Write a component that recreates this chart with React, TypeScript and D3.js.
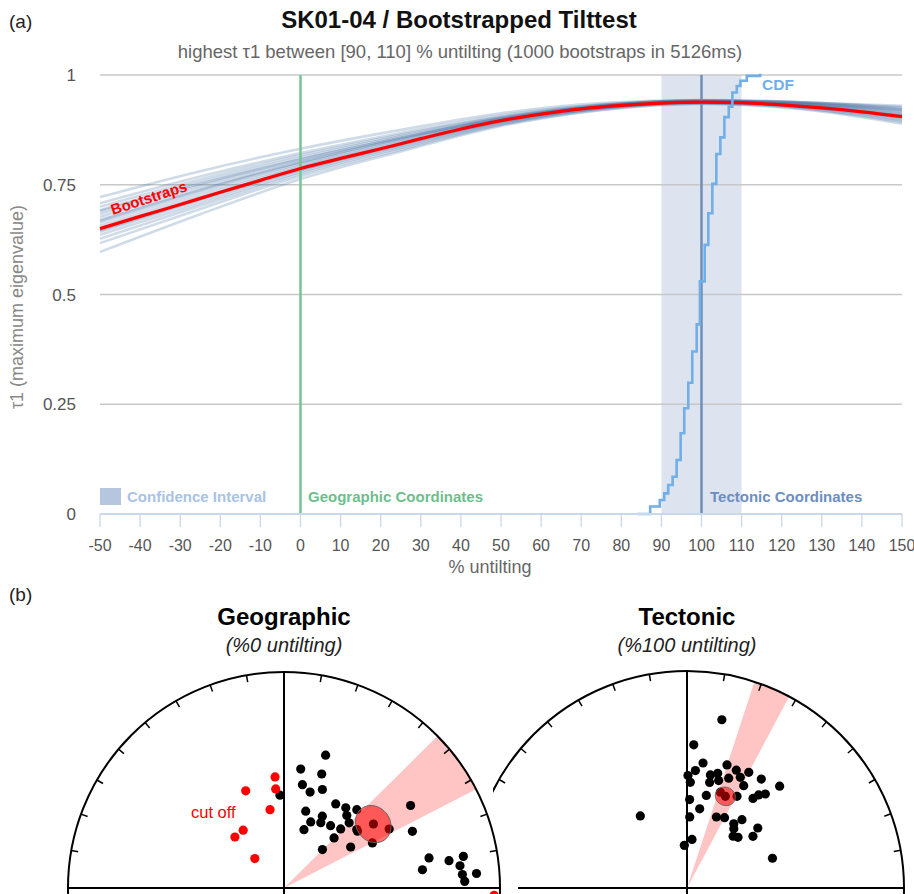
import React from "react";
import * as d3 from "d3";

// ---- panel (a): tilt test ----
const X_TICKS = [-50, -40, -30, -20, -10, 0, 10, 20, 30, 40, 50, 60, 70, 80, 90, 100, 110, 120, 130, 140, 150];
const Y_TICKS = [0, 0.25, 0.5, 0.75, 1];

const MEAN_X = [-50, -40, -30, -20, -10, 0, 10, 20, 30, 40, 50, 60, 70, 80, 90, 100, 110, 120, 130, 140, 150];
const MEAN_TAU1 = [0.65, 0.678, 0.705, 0.733, 0.76, 0.787, 0.81, 0.832, 0.855, 0.877, 0.896, 0.911, 0.923, 0.931, 0.936, 0.938, 0.937, 0.932, 0.925, 0.916, 0.905];

const BOOT_X = [-50, -25, 0, 25, 50, 75, 100, 125, 150];
const BOOTSTRAPS = [
  [0.722, 0.781, 0.832, 0.875, 0.913, 0.936, 0.943, 0.938, 0.925],
  [0.708, 0.769, 0.822, 0.868, 0.908, 0.933, 0.942, 0.938, 0.927],
  [0.7, 0.762, 0.817, 0.864, 0.905, 0.932, 0.942, 0.937, 0.922],
  [0.692, 0.756, 0.812, 0.861, 0.903, 0.931, 0.941, 0.936, 0.92],
  [0.684, 0.749, 0.807, 0.857, 0.901, 0.93, 0.941, 0.935, 0.917],
  [0.677, 0.743, 0.802, 0.854, 0.899, 0.929, 0.94, 0.934, 0.915],
  [0.67, 0.737, 0.798, 0.851, 0.898, 0.929, 0.94, 0.933, 0.912],
  [0.664, 0.731, 0.794, 0.848, 0.897, 0.928, 0.939, 0.932, 0.91],
  [0.657, 0.725, 0.79, 0.845, 0.896, 0.927, 0.939, 0.93, 0.907],
  [0.65, 0.72, 0.787, 0.843, 0.894, 0.926, 0.938, 0.929, 0.904],
  [0.643, 0.714, 0.783, 0.84, 0.892, 0.925, 0.937, 0.928, 0.902],
  [0.636, 0.708, 0.779, 0.837, 0.89, 0.924, 0.937, 0.927, 0.899],
  [0.627, 0.702, 0.775, 0.834, 0.888, 0.923, 0.936, 0.925, 0.896],
  [0.617, 0.695, 0.77, 0.83, 0.886, 0.921, 0.935, 0.924, 0.893],
  [0.597, 0.683, 0.763, 0.826, 0.884, 0.92, 0.934, 0.922, 0.889],
  [0.668, 0.738, 0.801, 0.855, 0.902, 0.931, 0.942, 0.938, 0.93],
  [0.646, 0.717, 0.785, 0.842, 0.893, 0.925, 0.938, 0.934, 0.921],
  [0.69, 0.752, 0.808, 0.857, 0.9, 0.928, 0.939, 0.931, 0.908],
];

// CDF steps: [untilting where it jumps, new cumulative value]
const CDF_STEPS = [
  [84, 0], [87.2, 0.017], [89.6, 0.032], [90.7, 0.047], [91.7, 0.066], [92.8, 0.085],
  [93.8, 0.123], [94.8, 0.184], [95.7, 0.241], [96.7, 0.299], [97.7, 0.37], [98.8, 0.432],
  [99.6, 0.53], [100.8, 0.613], [101.7, 0.685], [102.7, 0.752], [103.7, 0.82], [104.7, 0.858],
  [105.7, 0.904], [106.8, 0.928], [107.7, 0.96], [108.8, 0.975], [109.7, 0.987], [111.3, 0.998],
  [114.6, 1], [115, 1],
];
const CONFIDENCE = [90, 110];
const GEOGRAPHIC_AT = 0;
const TECTONIC_AT = 100;

// ---- panel (b): equal-area nets, [declination, inclination] ----
const GEO_POINTS = [
  [17.4, 35.8], [8.0, 43.7], [18.3, 43.7], [10.1, 49.8], [15.2, 52.0], [21.3, 49.5], [357.5, 54.6],
  [31.6, 52.3], [37.6, 51.3], [42.9, 49.0], [15.8, 59.7], [28.1, 59.1], [40.9, 53.4], [22.0, 63.0],
  [29.4, 61.6], [36.8, 60.5], [43.8, 58.9], [45.0, 54.9], [18.9, 66.7], [45.0, 63.2], [52.3, 54.6],
  [56.9, 30.7], [66.2, 35.3], [60.7, 43.5], [63.0, 52.1], [45.0, 69.5], [58.4, 60.3], [78.3, 32.0],
  [82.5, 35.6], [80.6, 23.6], [80.0, 16.8], [82.8, 19.0], [85.7, 18.3], [87.9, 17.4], [85.7, 11.6],
  [51.2, 54.4],
];
const GEO_CUTOFF = [
  [355.4, 47.2], [355.2, 52.0], [338.5, 50.0], [349.9, 59.8], [324.8, 63.2], [316.1, 63.2], [315.3, 74.4], [92, 3],
];
const GEO_MEAN = [54.4, 47.8];
const GEO_A95 = 6.8;
const GEO_CONE = [45.3, 62.8];

const TECT_POINTS = [
  [11.7, 21.9], [2.7, 34.3], [7.3, 41.5], [18.0, 40.1], [4.1, 44.9], [0.5, 47.0], [1.8, 49.7],
  [11.7, 45.8], [15.0, 44.5], [22.7, 40.8], [28.1, 39.4], [34.3, 39.1], [42.3, 36.7], [12.1, 48.8],
  [16.4, 47.2], [20.8, 45.0], [25.7, 42.8], [29.0, 45.2], [11.8, 54.1], [19.2, 51.4], [28.6, 50.2],
  [36.4, 47.5], [37.6, 45.0], [39.8, 43.0], [1.7, 56.5], [9.1, 59.7], [2.2, 63.2], [22.5, 61.0],
  [28.1, 59.9], [38.8, 56.8], [36.1, 60.0], [38.3, 61.5], [49.7, 54.8], [41.7, 63.9], [45.2, 62.9],
  [51.9, 58.3], [5.9, 71.7], [356.4, 74.0], [327.1, 57.5], [70.8, 55.7],
];
const TECT_MEAN = [22.7, 52.2];
const TECT_A95 = 3.6;
const TECT_CONE = [18.1, 28.1];

const FONT = "'Liberation Sans', Arial, Helvetica, sans-serif";
const RAD = Math.PI / 180;

const eqArea = (inc: number) => Math.SQRT2 * Math.sin(((90 - Math.abs(inc)) * RAD) / 2);

function Net({ id, cx, cy, R, title, sub, points, cutoff, mean, a95, cone, clipLeft, baseLeft }: any) {
  const rs = d3.scaleLinear().domain([0, 1]).range([0, R]);
  const proj = (dec: number, inc: number) => {
    const r = rs(eqArea(inc));
    return [cx + r * Math.sin(dec * RAD), cy - r * Math.cos(dec * RAD)];
  };
  const wedge = d3.arc()({
    innerRadius: 0,
    outerRadius: R,
    startAngle: cone[0] * RAD,
    endAngle: cone[1] * RAD,
  } as any);

  // small circle of confidence around the mean direction
  const D = mean[0] * RAD, I = mean[1] * RAD, A = a95 * RAD;
  const m = [Math.cos(I) * Math.cos(D), Math.cos(I) * Math.sin(D), Math.sin(I)];
  const u1 = [-Math.sin(I) * Math.cos(D), -Math.sin(I) * Math.sin(D), Math.cos(I)];
  const u2 = [-Math.sin(D), Math.cos(D), 0];
  const ring = d3.range(0, 360, 6).map((p) => {
    const P = p * RAD;
    const v = m.map((mi, k) => Math.cos(A) * mi + Math.sin(A) * (Math.cos(P) * u1[k] + Math.sin(P) * u2[k]));
    return proj(Math.atan2(v[1], v[0]) / RAD, Math.asin(v[2]) / RAD) as [number, number];
  });
  const ringPath = d3.line().curve(d3.curveLinearClosed)(ring);
  const meanXY = proj(mean[0], mean[1]);

  return (
    <g>
      <text x={cx} y={625} textAnchor="middle" fontSize={24} fontWeight="bold" fill="#000">{title}</text>
      <text x={cx} y={652} textAnchor="middle" fontSize={20} fontStyle="italic" fill="#222">{sub}</text>
      <clipPath id={id}>
        <rect x={clipLeft} y={0} width={914} height={894} />
      </clipPath>
      <g clipPath={`url(#${id})`}>
        <path d={wedge as string} transform={`translate(${cx},${cy})`} fill="#ffc4c4" />
        <circle cx={cx} cy={cy} r={R} fill="none" stroke="#000" strokeWidth={2} />
        {d3.range(0, 360, 10).map((az) => {
          const s = Math.sin(az * RAD), c = Math.cos(az * RAD);
          return (
            <line key={az} x1={cx + R * s} y1={cy - R * c} x2={cx + (R - 7) * s} y2={cy - (R - 7) * c}
              stroke="#000" strokeWidth={1.5} />
          );
        })}
        <line x1={cx} y1={cy - R} x2={cx} y2={cy + R} stroke="#000" strokeWidth={2} />
        <line x1={baseLeft} y1={cy} x2={cx + R} y2={cy} stroke="#000" strokeWidth={2} />
        {points.map((p: number[], i: number) => {
          const [x, y] = proj(p[0], p[1]);
          return <circle key={i} cx={x} cy={y} r={4.6} fill="#000" />;
        })}
        {(cutoff || []).map((p: number[], i: number) => {
          const [x, y] = proj(p[0], p[1]);
          return <circle key={"c" + i} cx={x} cy={y} r={4.6} fill="#ff0000" />;
        })}
        <path d={ringPath as string} fill="rgba(255,0,0,0.55)" stroke="#666" strokeWidth={1} />
        <circle cx={meanXY[0]} cy={meanXY[1]} r={4.6} fill="#7a0000" />
      </g>
    </g>
  );
}

export default function App() {
  const x = d3.scaleLinear().domain([-50, 150]).range([100, 902]);
  const y = d3.scaleLinear().domain([0, 1]).range([514, 75]);

  const meanLine = d3.line<number>().x((_, i) => x(MEAN_X[i])).y((d) => y(d)).curve(d3.curveMonotoneX);
  const bootLine = d3.line<number>().x((_, i) => x(BOOT_X[i])).y((d) => y(d)).curve(d3.curveMonotoneX);
  const cdfLine = d3.line<number[]>().x((d) => x(d[0])).y((d) => y(d[1])).curve(d3.curveStepAfter);

  const geoCx = 284, tectCx = 687, netCy = 888, R = 216;

  return (
    <svg width={914} height={894} style={{ position: "absolute", left: 0, top: 0, fontFamily: FONT }}>
      <rect width={914} height={894} fill="#fff" />
      <text x={9} y={28} fontSize={19} fill="#222">(a)</text>
      <text x={459} y={28} textAnchor="middle" fontSize={24} fontWeight="bold" fill="#111">
        SK01-04 / Bootstrapped Tilttest
      </text>
      <text x={460} y={58} textAnchor="middle" fontSize={18.5} fill="#666">
        highest τ1 between [90, 110] % untilting (1000 bootstraps in 5126ms)
      </text>

      {/* confidence interval band */}
      <rect x={x(CONFIDENCE[0])} y={y(1)} width={x(CONFIDENCE[1]) - x(CONFIDENCE[0])} height={y(0) - y(1)}
        fill="#dde4ef" />

      {Y_TICKS.filter((t) => t > 0).map((t) => (
        <line key={t} x1={x(-50)} x2={x(150)} y1={y(t)} y2={y(t)} stroke="#c8c8c8" strokeWidth={1.3} />
      ))}

      {BOOTSTRAPS.map((b, i) => (
        <path key={i} d={bootLine(b) as string} fill="none" stroke="#4a72a8" strokeOpacity={0.26} strokeWidth={2.6} />
      ))}

      <line x1={x(GEOGRAPHIC_AT)} x2={x(GEOGRAPHIC_AT)} y1={y(1)} y2={y(0)} stroke="#77c393" strokeWidth={2.5} />
      <line x1={x(TECTONIC_AT)} x2={x(TECTONIC_AT)} y1={y(1)} y2={y(0)} stroke="#6f8eb9" strokeWidth={2.5} />

      <path d={meanLine(MEAN_TAU1) as string} fill="none" stroke="#ff0000" strokeWidth={3.2} />
      <path d={cdfLine(CDF_STEPS) as string} fill="none" stroke="#72aee8" strokeWidth={2.6} />

      <text x={x(-46.8)} y={y(0.681)} transform={`rotate(-18 ${x(-46.8)} ${y(0.681)})`} fontSize={15}
        fontWeight="bold" fill="#ff0000">Bootstraps</text>
      <text x={762} y={90} fontSize={15.5} fontWeight="bold" fill="#72aee8">CDF</text>

      {/* legend */}
      <rect x={100} y={488} width={21} height={17} fill="#b6c6de" />
      <text x={127} y={502} fontSize={15} fontWeight="bold" fill="#a8c3e6">Confidence Interval</text>
      <text x={308} y={502} fontSize={15} fontWeight="bold" fill="#6cbf8c">Geographic Coordinates</text>
      <text x={710} y={502} fontSize={15} fontWeight="bold" fill="#6b8ec2">Tectonic Coordinates</text>

      {/* axes */}
      <line x1={x(-50)} x2={x(150)} y1={y(0)} y2={y(0)} stroke="#c9d8eb" strokeWidth={2} />
      {X_TICKS.map((t) => (
        <g key={t}>
          <line x1={x(t)} x2={x(t)} y1={y(0)} y2={y(0) + 13} stroke="#c9d8eb" strokeWidth={1.3} />
          <text x={x(t)} y={551} textAnchor="middle" fontSize={16} fill="#555">{t}</text>
        </g>
      ))}
      {Y_TICKS.map((t) => (
        <text key={t} x={76} y={y(t) + 6} textAnchor="end" fontSize={17} fill="#555">{t}</text>
      ))}
      <text x={490} y={573} textAnchor="middle" fontSize={18} fill="#666">% untilting</text>
      <text transform="translate(23,307) rotate(-90)" textAnchor="middle" fontSize={18} fill="#888">
        τ1 (maximum eigenvalue)
      </text>

      {/* panel (b) */}
      <text x={9} y={601} fontSize={19} fill="#222">(b)</text>
      <Net id="clipTect" cx={tectCx} cy={netCy} R={R + 1} title="Tectonic" sub="(%100 untilting)"
        points={TECT_POINTS} mean={TECT_MEAN} a95={TECT_A95} cone={TECT_CONE} clipLeft={493} baseLeft={518} />
      <Net id="clipGeo" cx={geoCx} cy={netCy} R={R} title="Geographic" sub="(%0 untilting)"
        points={GEO_POINTS} cutoff={GEO_CUTOFF} mean={GEO_MEAN} a95={GEO_A95} cone={GEO_CONE} clipLeft={0}
        baseLeft={geoCx - R} />
      <text x={191} y={818} fontSize={16.5} fill="#ff0000">cut off</text>
    </svg>
  );
}
